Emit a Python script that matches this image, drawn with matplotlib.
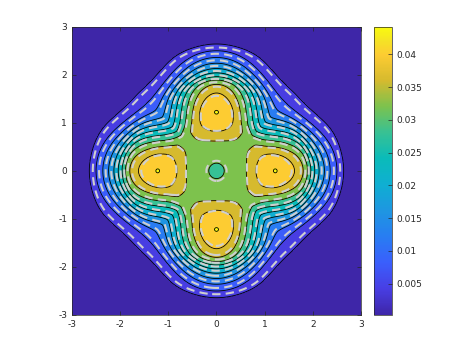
import numpy as np
import matplotlib
matplotlib.use("Agg")
import matplotlib.pyplot as plt
from matplotlib.colors import LinearSegmentedColormap, Normalize
from matplotlib.cm import ScalarMappable

# contour levels, colorbar ticks and axis ticks
levels = [0.004, 0.008, 0.012, 0.016, 0.020, 0.024, 0.028, 0.032, 0.036, 0.040, 0.044]
dash_shift = 0.0004   # dashed contours sit a little inside the solid ones
dash_shrink = 1.02
cbar_ticks = [0.005, 0.01, 0.015, 0.02, 0.025, 0.03, 0.035, 0.04]
cbar_labels = ['0.005', '0.01', '0.015', '0.02', '0.025', '0.03', '0.035', '0.04']
axis_ticks = [-3, -2, -1, 0, 1, 2, 3]
z_min, z_max = 0.0002, 0.0442

# radial profile along the axes (through the peaks)
axis_r = [0.0, 0.16, 0.32, 0.62, 0.82, 1.22, 1.62, 1.80, 1.89, 1.96, 2.04, 2.13, 2.24, 2.36, 2.50, 2.64, 2.85, 3.10, 3.50, 4.50]
axis_z = [0.0308, 0.032, 0.0332, 0.036, 0.040, 0.04406, 0.040, 0.036, 0.032, 0.028, 0.024, 0.020, 0.016, 0.012, 0.008, 0.004, 0.0018, 0.0007, 0.0002, 0.0]
# radial profile along the diagonals (between the peaks)
diag_r = [0.0, 0.16, 0.32, 0.55, 0.80, 0.95, 1.05, 1.17, 1.30, 1.44, 1.59, 1.79, 2.02, 2.29, 2.55, 2.85, 3.30, 4.50]
diag_z = [0.0308, 0.032, 0.0332, 0.0340, 0.0346, 0.0341, 0.032, 0.028, 0.024, 0.020, 0.016, 0.012, 0.008, 0.004, 0.0018, 0.0007, 0.0002, 0.0]

# parula-like colours at the band levels
cmap_pos = [0.0, 0.090, 0.181, 0.271, 0.362, 0.452, 0.543, 0.633, 0.724, 0.815, 0.905, 0.950, 1.0]
cmap_rgb = [(62, 38, 168), (72, 62, 228), (58, 95, 252), (40, 125, 242), (30, 150, 225),
            (15, 175, 210), (10, 187, 185), (55, 193, 148), (124, 194, 78), (214, 186, 46),
            (253, 204, 50), (245, 225, 38), (249, 251, 14)]
parula = LinearSegmentedColormap.from_list(
    'parula', [(p, tuple(c / 255 for c in rgb)) for p, rgb in zip(cmap_pos, cmap_rgb)])
norm = Normalize(z_min, z_max)


def pchip(xk, yk, xq):
    # monotone cubic through the read points, flat at both ends
    xk = np.asarray(xk, float)
    yk = np.asarray(yk, float)
    h = np.diff(xk)
    delta = np.diff(yk) / h
    d = np.zeros_like(yk)
    for k in range(1, len(xk) - 1):
        if delta[k - 1] * delta[k] > 0:
            w1 = 2 * h[k] + h[k - 1]
            w2 = h[k] + 2 * h[k - 1]
            d[k] = (w1 + w2) / (w1 / delta[k - 1] + w2 / delta[k])
    i = np.clip(np.searchsorted(xk, xq) - 1, 0, len(xk) - 2)
    t = np.clip((xq - xk[i]) / h[i], 0, 1)
    h00 = 2 * t**3 - 3 * t**2 + 1
    h10 = t**3 - 2 * t**2 + t
    h01 = -2 * t**3 + 3 * t**2
    h11 = t**3 - t**2
    return h00 * yk[i] + h10 * h[i] * d[i] + h01 * yk[i + 1] + h11 * h[i] * d[i + 1]


def surface(X, Y):
    # blend axis and diagonal profiles with a four-fold angular weight
    R = np.hypot(X, Y)
    T = np.arctan2(Y, X)
    s = np.clip((R - 1.5) / 1.1, 0, 1)
    q = 0.72 + 1.0 * s * s * (3 - 2 * s)
    w = ((1 + np.cos(4 * T)) / 2) ** q
    Za = pchip(axis_r, axis_z, R)
    Zd = pchip(diag_r, diag_z, R)
    return Zd + (Za - Zd) * w


x = np.linspace(-3, 3, 401)
X, Y = np.meshgrid(x, x)
Z = surface(X, Y)
Z2 = surface(X * dash_shrink, Y * dash_shrink)

plt.rcParams['font.family'] = ['DejaVu Sans']
plt.rcParams['axes.unicode_minus'] = False

fig = plt.figure(figsize=(4.73, 3.55), dpi=100)
ax = fig.add_axes([0.1522, 0.1127, 0.611, 0.812])

# filled bands get the colour of their lower level, like matlab contourf
fill_levels = [-1.0] + levels + [1.0]
fill_colors = [parula(norm(v)) for v in [z_min] + levels]
ax.contourf(X, Y, Z, levels=fill_levels, colors=fill_colors)
ax.contour(X, Y, Z, levels=levels, colors='k', linewidths=0.6)
ax.contour(X, Y, Z2, levels=[v + dash_shift for v in levels], colors='#cfcfcf',
           linewidths=1.5, linestyles=[(0, (4, 2.5))])

ax.set_xlim(-3, 3)
ax.set_ylim(-3, 3)
ax.set_xticks(axis_ticks)
ax.set_yticks(axis_ticks)
ax.tick_params(direction='in', length=3, width=0.5, colors='#262626', labelsize=6.5,
               top=True, right=True)
for sp in ax.spines.values():
    sp.set_color('#262626')
    sp.set_linewidth(0.5)

# colorbar on the right
cax = fig.add_axes([0.7913, 0.1127, 0.0368, 0.812])
cb = fig.colorbar(ScalarMappable(norm=norm, cmap=parula), cax=cax, ticks=cbar_ticks)
cb.set_ticklabels(cbar_labels)
cb.outline.set_edgecolor('#262626')
cb.outline.set_linewidth(0.5)
cax.tick_params(direction='in', length=3, width=0.5, colors='#262626', labelsize=6.5)

fig.savefig('out.png', dpi=100)
